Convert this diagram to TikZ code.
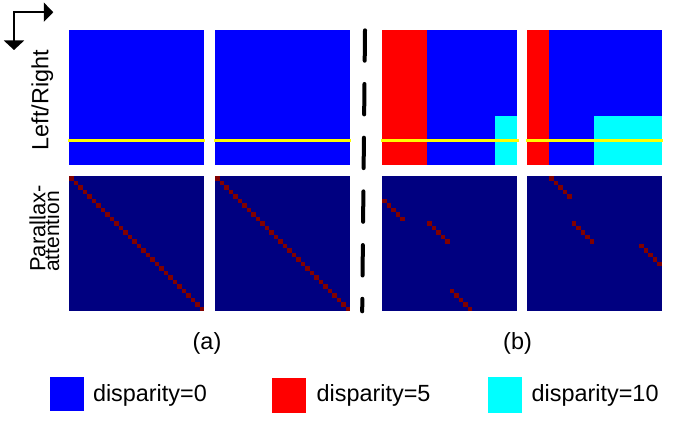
\documentclass[tikz,border=0pt]{standalone}
\usepackage{fontspec}
\setmainfont{Liberation Sans}
\usetikzlibrary{arrows.meta}
\definecolor{pblue}{RGB}{0,0,255}
\definecolor{pred}{RGB}{255,0,0}
\definecolor{pcyan}{RGB}{0,255,255}
\definecolor{pnavy}{RGB}{0,0,128}
\definecolor{pdot}{RGB}{128,0,0}
\definecolor{pyel}{RGB}{255,255,0}
\tikzset{
  lbl/.style={inner sep=0pt, outer sep=0pt, font=\fontsize{23.4}{28}\selectfont},
  sidelbl/.style={lbl, rotate=90, anchor=base},
  yline/.style={draw=pyel, line width=2.7pt},
  dotcell/.style={fill=pdot},
  sepline/.style={line width=4pt, line cap=round, dash pattern=on 30.4pt off 23.3pt},
  axarrow/.style={line width=2pt, line join=miter,
    {Triangle[length=9.5pt,width=20pt]}-{Triangle[length=9.5pt,width=19pt]}}
}
\begin{document}
\begin{tikzpicture}[x=1pt,y=-1pt]
\useasboundingbox (0,0) rectangle (674,425);
\fill[white] (0,0) rectangle (674,425);

% axis arrows
\coordinate (corner) at (14,12.2);
\coordinate (hend) at (53.3,12.2);
\coordinate (vend) at (14,50);
\draw[axarrow] (vend) -- (corner) -- (hend);

% (a) panels: disparity 0 everywhere
\foreach \x in {69,215}{
  \fill[pblue] (\x,30) rectangle ++(135,135);
  \fill[pnavy] (\x,176) rectangle ++(135,135);
  \foreach \i in {0,...,29}
    \fill[dotcell] (\x+4.5*\i,176+4.5*\i) rectangle ++(4.5,4.5);
  \draw[yline] (\x-1.5,140.7) -- (\x+136,140.7);
}

% (b) left image
\fill[pred] (382,30) rectangle (427,165);
\fill[pblue] (427,30) rectangle (517,165);
\fill[pcyan] (494.5,116) rectangle (517,165);
\draw[yline] (381,140.7) -- (519,140.7);
% (b) right image
\fill[pred] (526.5,30) rectangle (549,165);
\fill[pblue] (549,30) rectangle (661.5,165);
\fill[pcyan] (594,116) rectangle (661.5,165);
\draw[yline] (525.5,140.7) -- (662.5,140.7);

% (b) attention maps
\fill[pnavy] (382,176) rectangle ++(135,135);
\foreach \i in {0,...,4}
  \fill[dotcell] (382+4.5*\i,176+4.5*\i+22.5) rectangle ++(4.5,4.5);
\foreach \i in {10,...,14}
  \fill[dotcell] (382+4.5*\i,176+4.5*\i) rectangle ++(4.5,4.5);
\foreach \i in {15,...,19}
  \fill[dotcell] (382+4.5*\i,176+4.5*\i+45) rectangle ++(4.5,4.5);

\fill[pnavy] (526.5,176) rectangle ++(135,135);
\foreach \i in {0,...,4}
  \fill[dotcell] (526.5+4.5*\i+22.5,176+4.5*\i) rectangle ++(4.5,4.5);
\foreach \i in {10,...,14}
  \fill[dotcell] (526.5+4.5*\i,176+4.5*\i) rectangle ++(4.5,4.5);
\foreach \i in {15,...,19}
  \fill[dotcell] (526.5+4.5*\i+45,176+4.5*\i) rectangle ++(4.5,4.5);

% separator
\coordinate (septop) at (365,30.3);
\coordinate (sepbot) at (362.2,311.3);
\draw[sepline] (septop) -- (sepbot);

% side labels
\node[sidelbl] (lr) at (48.3,100) {Left/Right};
\node[sidelbl, font=\fontsize{22}{26}\selectfont] (pa1) at (45.3,228.5) {Parallax-};
\node[sidelbl, font=\fontsize{21}{25}\selectfont] (pa2) at (59,231.5) {attention};

% captions
\node[lbl] (capa) at (207,343) {(a)};
\node[lbl] (capb) at (517.5,343) {(b)};

% legend
\fill[pblue] (49.5,377) rectangle (83.5,411);
\node[lbl, anchor=base west] (leg0) at (93,401.5) {disparity=0};
\fill[pred] (272,378) rectangle (306,412.5);
\node[lbl, anchor=base west] (leg5) at (316.7,401.5) {disparity=5};
\fill[pcyan] (488,377) rectangle (522,412.5);
\node[lbl, anchor=base west] (leg10) at (531.7,401.5) {disparity=10};
\end{tikzpicture}
\end{document}
